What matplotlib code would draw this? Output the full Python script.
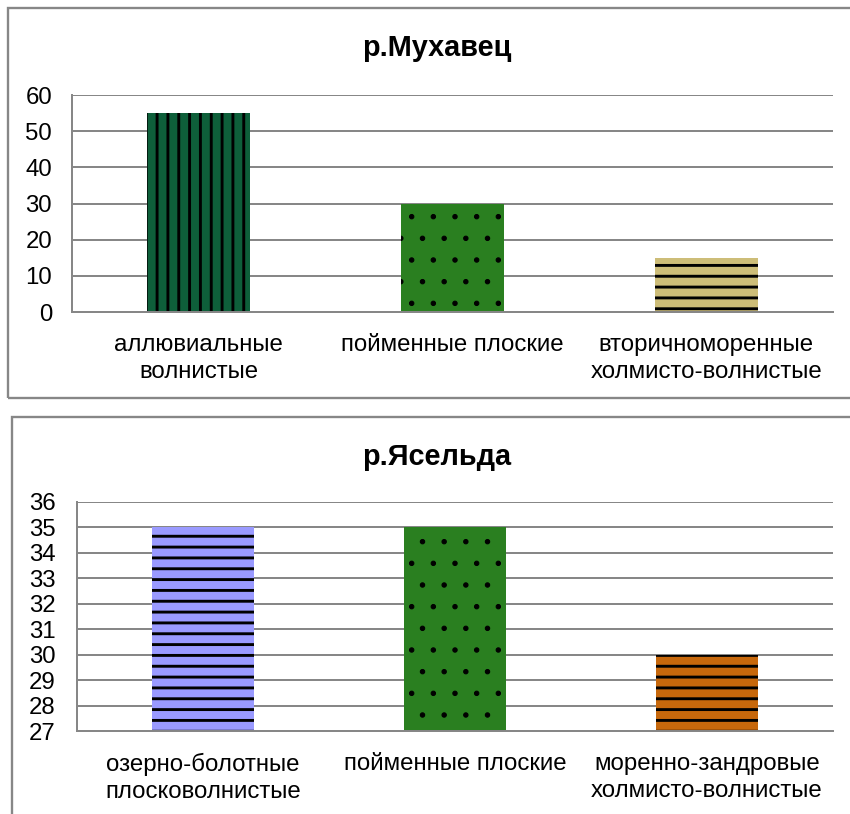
import matplotlib
matplotlib.use('Agg')
import matplotlib.pyplot as plt
from matplotlib.patches import Rectangle

# данные
title1 = 'р.Мухавец'
cats1 = ['аллювиальные\nволнистые', 'пойменные плоские', 'вторичноморенные\nхолмисто-волнистые']
vals1 = [55, 30, 15]

title2 = 'р.Ясельда'
cats2 = ['озерно-болотные\nплосковолнистые', 'пойменные плоские', 'моренно-зандровые\nхолмисто-волнистые']
vals2 = [35, 35, 30]

# стиль
colors1 = ['#0e5f3a', '#2a7f20', '#cdbd78']
hatches1 = ['||', '.', '--']
colors2 = ['#9a9aff', '#2a7f20', '#c7680c']
hatches2 = ['--', '.', '--']

plt.rcParams['font.family'] = ['Liberation Sans', 'DejaVu Sans']
plt.rcParams['hatch.linewidth'] = 1.6
GRAY = '#878787'
DPI = 130

fig = plt.figure(figsize=(850 / DPI, 814 / DPI), dpi=DPI)
W, H = 850, 814

# рамки
fig.patches.append(Rectangle((8 / W, 1 - 398 / H), 1.1, 390 / H, transform=fig.transFigure,
                             fill=False, edgecolor=GRAY, linewidth=1.3))
fig.patches.append(Rectangle((12 / W, -0.1), 1.1, 1 - 417 / H + 0.1, transform=fig.transFigure,
                             fill=False, edgecolor=GRAY, linewidth=1.3))


def chart(rect, title, title_y, cats, vals, colors, hatches, ylim, yticks, ypad):
    ax = fig.add_axes(rect)
    x = range(len(cats))
    bars = ax.bar(x, vals, width=0.405, color=colors, hatch=hatches, edgecolor='black', linewidth=0)
    for b, h in zip(bars, hatches):
        if h == '.' and hasattr(b, 'set_hatch_linewidth'):
            b.set_hatch_linewidth(0.6)
    ax.set_xlim(-0.5, len(cats) - 0.5)
    ax.set_ylim(*ylim)
    ax.set_yticks(yticks)
    ax.set_xticks(list(x))
    ax.set_xticklabels(cats, linespacing=1.3)
    ax.set_axisbelow(True)
    ax.grid(axis='y', color=GRAY, linewidth=1.1)
    for s in ['top', 'right']:
        ax.spines[s].set_visible(False)
    for s in ['left', 'bottom']:
        ax.spines[s].set_color(GRAY)
        ax.spines[s].set_linewidth(1.1)
    ax.tick_params(axis='y', length=0, pad=ypad, labelsize=13.3)
    ax.tick_params(axis='x', length=0, pad=12, labelsize=13.3)
    fig.text(437 / W, 1 - title_y / H, title, ha='center', va='center',
             fontsize=16, fontweight='bold')
    return ax


chart([72 / W, 1 - 312 / H, (833 - 72) / W, (312 - 95) / H], title1, 48,
      cats1, vals1, colors1, hatches1, (0, 60), range(0, 61, 10), 11)
chart([77 / W, 1 - 731 / H, (833 - 77) / W, (731 - 502) / H], title2, 457,
      cats2, vals2, colors2, hatches2, (27, 36), range(27, 37), 12)

fig.savefig('out.png', dpi=DPI)
